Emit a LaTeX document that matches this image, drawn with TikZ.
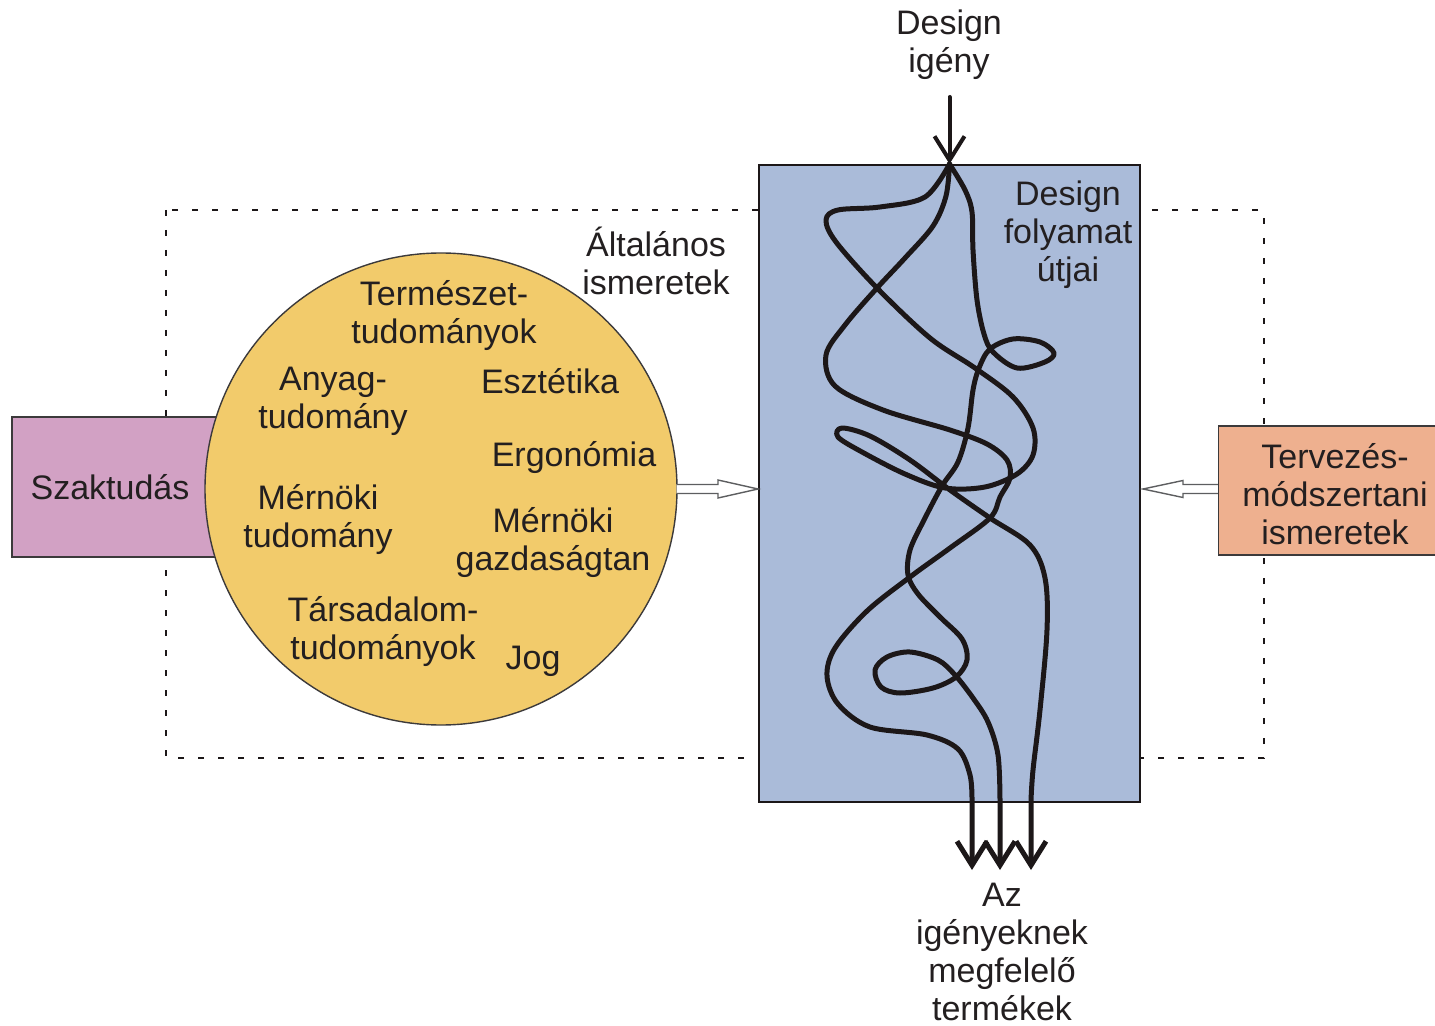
\documentclass[tikz,border=0pt]{standalone}
\usepackage{fontspec}
\setmainfont{Liberation Sans}
\usetikzlibrary{arrows.meta,calc}
\definecolor{ink}{HTML}{1C1718}
\definecolor{txt}{HTML}{231F20}
\definecolor{bluefill}{HTML}{AABBD9}
\definecolor{circfill}{HTML}{F2CB6B}
\definecolor{pinkfill}{HTML}{D2A1C4}
\definecolor{orangefill}{HTML}{EEB08F}
\definecolor{edge}{HTML}{3C3A3B}
\definecolor{hollowgray}{HTML}{5D5E60}
\begin{document}
\begin{tikzpicture}[x=0.5pt,y=-0.5pt,
  lbl/.style={font=\fontsize{17}{19}\selectfont, text=txt, align=center, inner sep=0pt},
  route/.style={draw=ink, line width=2.5pt, line join=round, line cap=round},
  barb/.style={-{Straight Barb[length=12pt,width=15pt]}},
  hollow/.style={draw=hollowgray, line width=0.7pt, fill=white},
  dotrect/.style={draw=ink, line width=1.4pt, dash pattern=on 3pt off 7pt},
  boxstyle/.style={draw=edge, line width=0.7pt, inner sep=0pt}]
\useasboundingbox (0,0) rectangle (1435,1026);

% dotted frame
\draw[dotrect] (166,210) rectangle (1264,758);

% boxes
\node[boxstyle, fill=pinkfill, minimum width=104pt, minimum height=70pt, lbl] (szak) at (116,487) {Szaktudás\hspace*{6pt}};
\node[boxstyle, fill=circfill, circle, minimum size=236pt] (circ) at (441,489) {};
\node[boxstyle, fill=bluefill, draw=ink, line width=1pt, minimum width=190.5pt, minimum height=318.5pt] (blue) at (949.5,483.5) {};
\node[boxstyle, fill=orangefill, minimum width=116.5pt, minimum height=64.5pt] (terv) at (1335,490.5) {};
\node[lbl] (tervlbl) at (1335,494) {Tervezés-\\módszertani\\ismeretek};

% hollow arrows
\coordinate (lt) at (blue.west |- circ.east);
\draw[hollow] ($(circ.east)+(-1,-4.5)$) -- ($(lt)+(-40,-4.5)$) -- ($(lt)+(-40,-9)$) -- (lt)
  -- ($(lt)+(-40,9)$) -- ($(lt)+(-40,4.5)$) -- ($(circ.east)+(-1,4.5)$);
\coordinate (rt) at ($(blue.east |- circ.east)+(2,0)$);
\draw[hollow] ($(terv.west |- rt)+(0,-4.5)$) -- ($(rt)+(40,-4.5)$) -- ($(rt)+(40,-8.5)$) -- (rt)
  -- ($(rt)+(40,8.5)$) -- ($(rt)+(40,4.5)$) -- ($(terv.west |- rt)+(0,4.5)$);

% top arrow
\coordinate (apex) at (blue.north);
\coordinate (topstart) at (949.5,97);
\draw[route, line width=2pt, barb] (topstart) -- (apex);

% strand A (to right arrow)
\draw[route, barb] plot[smooth, tension=0.55] coordinates {
 (apex) (925,197) (880,207) (838,210) (826,220) (836,242) (877,288) (930,338) (975,368)
 (1013,397) (1033,428) (1033,455) (1017,474) (985,487) (945,488) (905,474) (862,452)
 (838,437) (842,428) (870,436) (910,460) (950,490) (990,518) (1030,545) (1045,578)
 (1047,630) (1040,710) (1033,770) (1031,800)} -- (1031,870);

% strand B (to left arrow)
\draw[route, barb] plot[smooth, tension=0.55] coordinates {
 (apex) (946,196) (933,226) (905,258) (877,288) (845,325) (826,355) (835,386) (883,410)
 (950,430) (987,444) (1007,460) (1010,478) (1000,497) (990,518) (950,548) (910,577)
 (867,611) (835,648) (827,676) (838,704) (870,727) (927,735) (958,749) (970,775) (972,800)} -- (972,870);

% strand C (to middle arrow)
\draw[route, barb] plot[smooth, tension=0.55] coordinates {
 (apex) (965,190) (972,212) (973,250) (977,300) (984,334) (993,352) (1017,368) (1045,362)
 (1054,353) (1040,342) (1013,339) (990,349) (979,368) (973,390) (968,428) (958,462)
 (942,486) (924,520) (910,550) (908,575) (918,594) (940,617) (962,639) (967,660)
 (956,677) (933,688) (900,693) (881,687) (875,670) (887,657) (910,652) (938,660)
 (955,675) (973,698) (988,722) (998,755) (1000,800)} -- (1000,870);

% labels
\node[lbl] (designneed) at (949,45) {Design\\igény};
\node[lbl] (proc) at (1068,235) {Design\\folyamat\\útjai};
\node[lbl] (altal) at (656,261) {Általános\\ismeretek};
\node[lbl] (termesz) at (444,316) {Természet-\\tudományok};
\node[lbl] (anyag) at (333,401) {Anyag-\\tudomány};
\node[lbl] (esztet) at (550,381) {Esztétika};
\node[lbl] (ergo) at (574,458) {Ergonómia};
\node[lbl] (mernok) at (318,520) {Mérnöki\\tudomány};
\node[lbl] (gazd) at (553,543) {Mérnöki\\gazdaságtan};
\node[lbl] (tars) at (383,632) {Társadalom-\\tudományok};
\node[lbl] (jog) at (533,661) {Jog};
\node[lbl] (termek) at (1002,952) {Az\\igényeknek\\megfelelő\\termékek};
\end{tikzpicture}
\end{document}
